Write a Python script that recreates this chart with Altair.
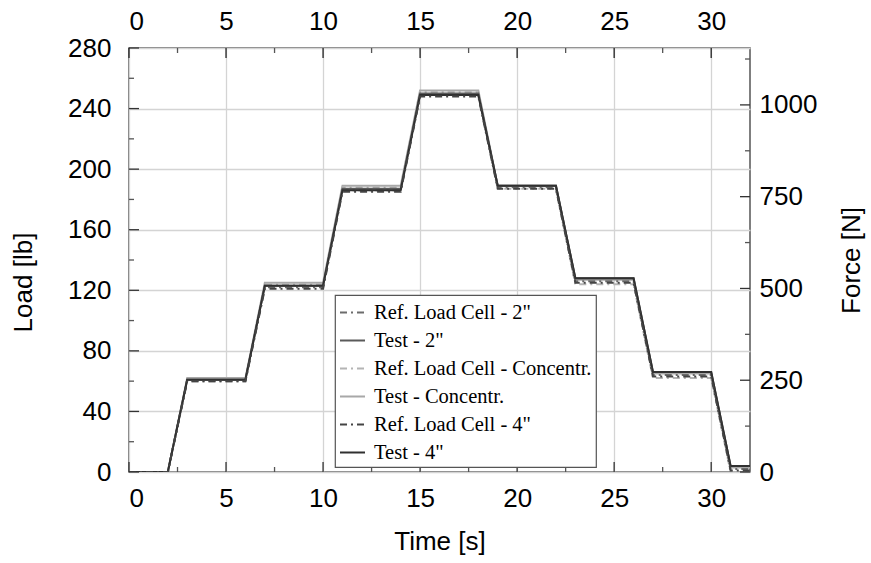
import altair as alt
import pandas as pd

# ---- data ----
time_s = [0, 2, 3, 6, 7, 10, 11, 14, 15, 18, 19, 22, 23, 26, 27, 30, 31, 32]
series_names = ['Ref. Load Cell - 2"', 'Test - 2"', 'Ref. Load Cell - Concentr.',
                'Test - Concentr.', 'Ref. Load Cell - 4"', 'Test - 4"']
ref_2in = [0, 0, 60, 60, 122, 122, 186, 186, 249, 249, 188, 188, 126, 126, 64, 64, 2, 2]
test_2in = [0, 0, 61, 61, 123, 123, 187, 187, 250, 250, 189, 189, 128, 128, 66, 66, 4, 4]
ref_conc = [0, 0, 61, 61, 124, 124, 188, 188, 251, 251, 187, 187, 124, 124, 62, 62, 0, 0]
test_conc = [0, 0, 62, 62, 125, 125, 189, 189, 252, 252, 189, 189, 127, 127, 65, 65, 3, 3]
ref_4in = [0, 0, 60, 60, 121, 121, 185, 185, 248, 248, 187, 187, 125, 125, 63, 63, 1, 1]
test_4in = [0, 0, 61, 61, 123, 123, 186, 186, 249, 249, 189, 189, 128, 128, 66, 66, 4, 4]

x_major = [0, 5, 10, 15, 20, 25, 30]
x_minor = [2.5, 7.5, 12.5, 17.5, 22.5, 27.5]
y_major = [0, 40, 80, 120, 160, 200, 240, 280]
y_minor = [20, 60, 100, 140, 180, 220, 260]
f_major = [0, 250, 500, 750, 1000]
f_minor = [125, 375, 625, 875, 1125]

# ---- styling ----
W, H = 621, 424
MAJ, MIN = 10, 5
FONT = "Liberation Sans"
color_range = ['#6c6c6c', '#5a5a5a', '#b4b4b4', '#a8a8a8', '#444444', '#303030']
dash_range = [[7, 4, 2, 4], [1, 0], [7, 4, 2, 4], [1, 0], [7, 4, 2, 4], [1, 0]]
width_range = [2.0, 2.0, 4.5, 4.5, 2.6, 2.6]

draw_order = [3, 2, 1, 0, 5, 4]
values = [ref_2in, test_2in, ref_conc, test_conc, ref_4in, test_4in]
rows = []
for i in draw_order:
    for t, v in zip(time_s, values[i]):
        rows.append({"t": t, "load": v, "series": series_names[i]})
df = pd.DataFrame(rows)

xs = alt.Scale(domain=[0, 32], nice=False, zero=False)
ys = alt.Scale(domain=[0, 280], nice=False)
fs = alt.Scale(domain=[0, 1155], nice=False)

leg = alt.Legend(orient="none", legendX=206, legendY=247, title=None)

common = dict(labelFont=FONT, labelFontSize=26, labelColor="black",
              titleFont=FONT, titleFontSize=26, titleFontWeight="normal", titleColor="black",
              ticks=False, domain=False)

lines = alt.Chart(df).mark_line(clip=True).encode(
    x=alt.X("t:Q", scale=xs, axis=alt.Axis(
        orient="bottom", values=x_major, title="Time [s]", grid=True,
        gridColor="#d4d4d4", gridWidth=1.3, labelPadding=13, titlePadding=17, **common)),
    y=alt.Y("load:Q", scale=ys, axis=alt.Axis(
        orient="left", values=y_major, title="Load [lb]", grid=True,
        gridColor="#d4d4d4", gridWidth=1.3, labelPadding=18, titlePadding=31,
        titleY=234, **common)),
    color=alt.Color("series:N", scale=alt.Scale(domain=series_names, range=color_range), legend=leg),
    strokeDash=alt.StrokeDash("series:N", scale=alt.Scale(domain=series_names, range=dash_range), legend=leg),
    strokeWidth=alt.StrokeWidth("series:N", scale=alt.Scale(domain=series_names, range=width_range), legend=leg),
    order=alt.Order("t:Q"),
)


def hticks(vals, length, field, scale, color, x0):
    return alt.Chart(pd.DataFrame({field: vals})).mark_rule(color=color, strokeWidth=1.3).encode(
        y=alt.Y(f"{field}:Q", scale=scale, axis=None),
        x=alt.value(x0), x2=alt.value(x0 + length))


def vticks(vals, y0, y1, color):
    return alt.Chart(pd.DataFrame({"t": vals})).mark_rule(color=color, strokeWidth=1.3).encode(
        x=alt.X("t:Q", scale=xs, axis=None),
        y=alt.value(y0), y2=alt.value(y1))


right_major = alt.Chart(pd.DataFrame({"f": f_major})).mark_rule(color="#333", strokeWidth=1.3).encode(
    y=alt.Y("f:Q", scale=fs, axis=alt.Axis(
        orient="right", values=f_major, title="Force [N]", grid=False, format="d",
        labelPadding=9, titlePadding=22, titleAngle=270, titleBaseline="top", **common)),
    x=alt.value(W), x2=alt.value(W - MAJ))

top_major = alt.Chart(pd.DataFrame({"t": x_major})).mark_rule(color="#222", strokeWidth=1.3).encode(
    x=alt.X("t:Q", scale=xs, axis=alt.Axis(
        orient="top", values=x_major, title=None, grid=False, labelPadding=14, **common)),
    y=alt.value(0), y2=alt.value(MAJ))

chart = alt.layer(
    lines,
    hticks(y_major, MAJ, "load", ys, "#333", 0),
    hticks(y_minor, MIN, "load", ys, "#555", 0),
    vticks(x_major, H, H - MAJ, "#333"),
    vticks(x_minor, H, H - MIN, "#555"),
    right_major,
    hticks(f_minor, -MIN, "f", fs, "#555", W),
    top_major,
    vticks(x_minor, 0, MIN, "#555"),
).resolve_scale(
    y="independent"
).resolve_axis(
    x="independent", y="independent"
).properties(
    width=W, height=H,
    autosize=alt.AutoSizeParams(type="none"),
    padding={"left": 129, "top": 48, "right": 121, "bottom": 91},
    background="white",
).configure_view(
    stroke="#555", strokeWidth=1.5
).configure_legend(
    fillColor="white", strokeColor="#555", strokeWidth=1.2, padding=4,
    labelFont="Liberation Serif", labelFontSize=20.5, labelColor="black",
    symbolType="stroke", symbolSize=625, rowPadding=4, labelOffset=8,
    cornerRadius=0, labelLimit=400,
)

chart.save("out.html", embed_options={"renderer": "svg", "actions": False})
